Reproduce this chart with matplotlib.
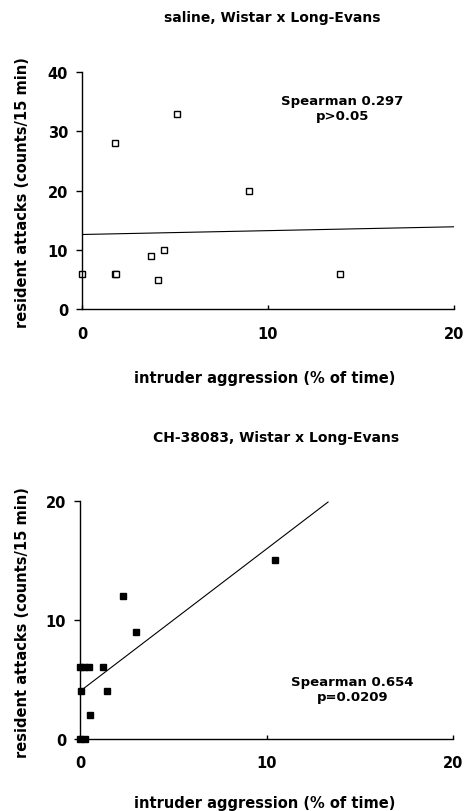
import matplotlib
matplotlib.use('Agg')
import matplotlib.pyplot as plt

# saline, Wistar x Long-Evans
saline_x = [0.0, 1.75, 1.75, 1.85, 3.7, 4.1, 4.4, 5.1, 9.0, 13.9]
saline_y = [6, 28, 6, 6, 9, 5, 10, 33, 20, 6]
saline_fit_x = [0, 20]
saline_fit_y = [12.6, 13.9]

# CH-38083, Wistar x Long-Evans
ch_x = [0.0, 0.25, 0.0, 0.2, 0.45, 1.2, 0.05, 1.45, 0.55, 2.3, 3.0, 10.45]
ch_y = [0, 0, 6, 6, 6, 6, 4, 4, 2, 12, 9, 15]
ch_fit_x = [0, 13.3]
ch_fit_y = [4.0, 19.9]

plt.rcParams['font.family'] = 'DejaVu Sans'
plt.rcParams['font.weight'] = 'bold'
fs = 9.5

fig = plt.figure(figsize=(4.66, 8.12), dpi=100)
ax1 = fig.add_axes([0.176, 0.618, 0.798, 0.292])
ax2 = fig.add_axes([0.172, 0.089, 0.800, 0.293])


def estilo(ax, ymax, yticks):
    ax.set_xlim(0, 20)
    ax.set_ylim(0, ymax)
    ax.set_xticks([0, 10, 20])
    ax.set_yticks(yticks)
    for s in ['top', 'right']:
        ax.spines[s].set_visible(False)
    for s in ['left', 'bottom']:
        ax.spines[s].set_linewidth(1.0)
    ax.tick_params(axis='y', direction='out', length=4, width=1, pad=6, labelsize=fs + 1)
    ax.tick_params(axis='x', direction='in', length=3, width=1, pad=12, labelsize=fs + 1)
    for lab in ax.get_xticklabels() + ax.get_yticklabels():
        lab.set_fontweight('bold')


ax1.plot(saline_x, saline_y, 's', ms=5, mfc='white', mec='black', mew=1.0, clip_on=False)
ax1.plot(saline_fit_x, saline_fit_y, color='black', lw=0.8)
estilo(ax1, 40, [0, 10, 20, 30, 40])
ax1.text(14.0, 34.0, 'Spearman 0.297\np>0.05', ha='center', va='center',
         fontsize=fs, fontweight='bold', linespacing=1.2)

ax2.plot(ch_x, ch_y, 's', ms=5, color='black', clip_on=False)
ax2.plot(ch_fit_x, ch_fit_y, color='black', lw=0.8)
estilo(ax2, 20, [0, 10, 20])
ax2.text(14.6, 4.15, 'Spearman 0.654\np=0.0209', ha='center', va='center',
         fontsize=fs, fontweight='bold', linespacing=1.2)

fig.text(0.584, 0.978, 'saline, Wistar x Long-Evans', ha='center', va='center',
         fontsize=10, fontweight='bold')
fig.text(0.592, 0.461, 'CH-38083, Wistar x Long-Evans', ha='center', va='center',
         fontsize=10, fontweight='bold')

fig.text(0.569, 0.534, 'intruder aggression (% of time)', ha='center', va='center',
         fontsize=10.5, fontweight='bold')
fig.text(0.569, 0.011, 'intruder aggression (% of time)', ha='center', va='center',
         fontsize=10.5, fontweight='bold')

fig.text(0.049, 1 - 193 / 812, 'resident attacks (counts/15 min)', ha='center', va='center',
         rotation=90, fontsize=10.5, fontweight='bold')
fig.text(0.049, 1 - 623 / 812, 'resident attacks (counts/15 min)', ha='center', va='center',
         rotation=90, fontsize=10.5, fontweight='bold')

fig.savefig('out.png', dpi=100)
